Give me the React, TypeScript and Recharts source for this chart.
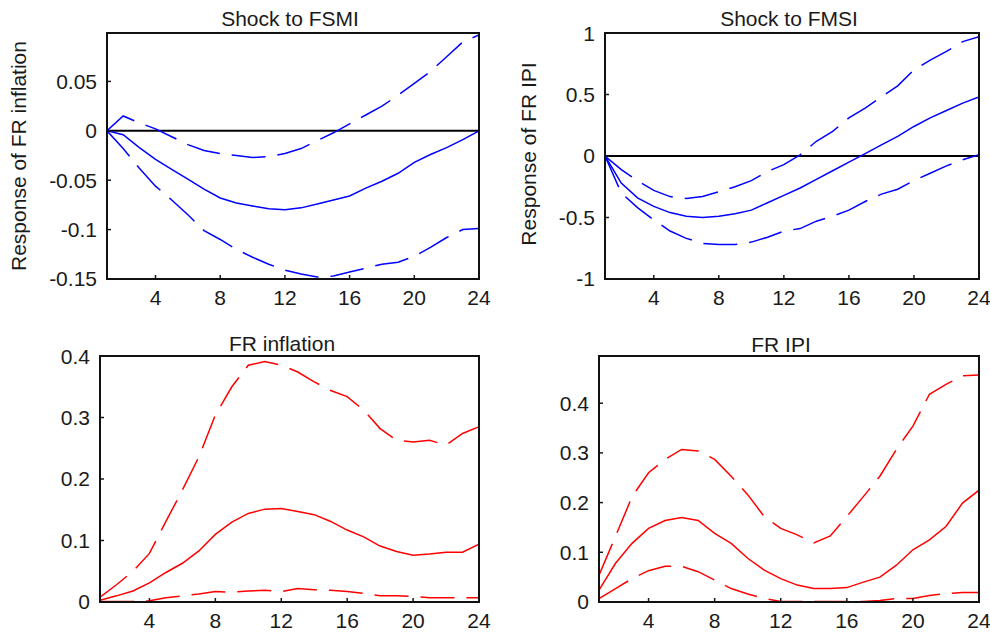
import { LineChart, Line, XAxis, YAxis, ReferenceLine } from "recharts";

const FONT = '"Liberation Sans", Arial, sans-serif';
const INK = "#1a1a1a";

const PERIODS = [1, 2, 3, 4, 5, 6, 7, 8, 9, 10, 11, 12, 13, 14, 15, 16, 17, 18, 19, 20, 21, 22, 23, 24];
const X_TICKS = [4, 8, 12, 16, 20, 24];

// Shock to FSMI -> FR inflation
const TL_MID = [0, -0.004, -0.017, -0.029, -0.039, -0.049, -0.059, -0.068, -0.073, -0.076, -0.079, -0.08, -0.078, -0.074, -0.07, -0.066, -0.058, -0.051, -0.043, -0.032, -0.024, -0.017, -0.009, 0];
const TL_UP = [0, 0.015, 0.008, 0.002, -0.006, -0.014, -0.02, -0.023, -0.025, -0.027, -0.026, -0.023, -0.018, -0.01, -0.002, 0.007, 0.016, 0.025, 0.036, 0.048, 0.06, 0.075, 0.09, 0.097];
const TL_LO = [0, -0.018, -0.038, -0.056, -0.07, -0.085, -0.101, -0.11, -0.12, -0.128, -0.135, -0.141, -0.145, -0.148, -0.147, -0.143, -0.139, -0.135, -0.133, -0.127, -0.118, -0.108, -0.1, -0.099];

// Shock to FMSI -> FR IPI
const TR_MID = [0, -0.22, -0.34, -0.41, -0.46, -0.49, -0.5, -0.49, -0.47, -0.44, -0.38, -0.32, -0.26, -0.19, -0.12, -0.05, 0.02, 0.09, 0.16, 0.24, 0.31, 0.37, 0.43, 0.48];
const TR_UP = [0, -0.11, -0.2, -0.28, -0.33, -0.345, -0.33, -0.29, -0.25, -0.2, -0.125, -0.07, 0.01, 0.12, 0.2, 0.31, 0.39, 0.48, 0.57, 0.7, 0.78, 0.85, 0.93, 0.97];
const TR_LO = [0, -0.3, -0.42, -0.52, -0.61, -0.67, -0.71, -0.72, -0.72, -0.7, -0.66, -0.61, -0.59, -0.53, -0.49, -0.44, -0.37, -0.31, -0.27, -0.2, -0.14, -0.08, -0.03, 0.01];

// FR inflation
const BL_MID = [0.003, 0.01, 0.018, 0.031, 0.048, 0.063, 0.083, 0.11, 0.13, 0.144, 0.151, 0.152, 0.147, 0.142, 0.131, 0.117, 0.106, 0.091, 0.082, 0.076, 0.078, 0.081, 0.081, 0.094];
const BL_UP = [0.008, 0.028, 0.05, 0.079, 0.131, 0.182, 0.236, 0.304, 0.35, 0.385, 0.391, 0.385, 0.374, 0.358, 0.344, 0.334, 0.312, 0.282, 0.263, 0.26, 0.263, 0.255, 0.274, 0.285];
const BL_LO = [0.001, 0.001, 0.001, 0.002, 0.007, 0.01, 0.013, 0.017, 0.016, 0.018, 0.019, 0.017, 0.022, 0.02, 0.019, 0.017, 0.014, 0.01, 0.01, 0.009, 0.007, 0.007, 0.007, 0.007];

// FR IPI
const BR_MID = [0.024, 0.078, 0.118, 0.148, 0.164, 0.17, 0.164, 0.138, 0.118, 0.088, 0.064, 0.047, 0.034, 0.027, 0.027, 0.029, 0.04, 0.05, 0.074, 0.105, 0.125, 0.152, 0.199, 0.225];
const BR_UP = [0.054, 0.132, 0.212, 0.26, 0.287, 0.307, 0.304, 0.287, 0.253, 0.216, 0.172, 0.148, 0.135, 0.119, 0.133, 0.172, 0.212, 0.253, 0.307, 0.354, 0.418, 0.438, 0.455, 0.457];
const BR_LO = [0.007, 0.027, 0.047, 0.063, 0.072, 0.072, 0.061, 0.044, 0.027, 0.016, 0.007, 0.001, 0.001, 0.001, 0.001, 0.001, 0.001, 0.003, 0.007, 0.007, 0.013, 0.017, 0.019, 0.019];

function rows(mid: number[], up: number[], lo: number[]) {
  return PERIODS.map((p, i) => ({ p, mid: mid[i], up: up[i], lo: lo[i] }));
}

type PanelProps = {
  left: number;
  top: number;
  w: number;
  h: number;
  yDomain: [number, number];
  yTicks: number[];
  color: string;
  data: { p: number; mid: number; up: number; lo: number }[];
  zero?: boolean;
};

function Panel({ left, top, w, h, yDomain, yTicks, color, data, zero }: PanelProps) {
  const ml = 100;
  const mt = 12;
  const mr = 24;
  const mb = 44;
  const axisLine = { stroke: INK, strokeWidth: 2 };
  const tickLine = { stroke: INK, strokeWidth: 1.5 };
  const tickFont = { fontSize: 21, fill: INK, fontFamily: FONT };
  const dash = "34 12";
  return (
    <>
      <div style={{ position: "absolute", left: left - ml, top: top - mt }}>
        <LineChart
          width={w + ml + mr}
          height={h + mt + mb}
          data={data}
          margin={{ top: mt, right: mr, bottom: mb - 30, left: ml - 60 }}
        >
          <XAxis
            dataKey="p"
            type="number"
            domain={[1, 24]}
            ticks={X_TICKS}
            allowDataOverflow
            height={30}
            tickSize={-4}
            tickMargin={15}
            axisLine={axisLine}
            tickLine={tickLine}
            tick={tickFont}
          />
          <YAxis
            type="number"
            domain={yDomain}
            ticks={yTicks}
            allowDataOverflow
            width={60}
            tickSize={-4}
            tickMargin={14}
            axisLine={axisLine}
            tickLine={tickLine}
            tick={tickFont}
          />
          {zero && <ReferenceLine y={0} stroke="#000" strokeWidth={2} />}
          <Line dataKey="up" stroke={color} strokeWidth={1.5} strokeDasharray={dash} dot={false} isAnimationActive={false} />
          <Line dataKey="mid" stroke={color} strokeWidth={1.5} dot={false} isAnimationActive={false} />
          <Line dataKey="lo" stroke={color} strokeWidth={1.5} strokeDasharray={dash} dot={false} isAnimationActive={false} />
        </LineChart>
      </div>
      {/* axes box frame */}
      <div
        style={{
          position: "absolute",
          left: left - 1,
          top: top - 1,
          width: w + 2,
          height: h + 2,
          boxSizing: "border-box",
          border: "2px solid #111",
          pointerEvents: "none",
          zIndex: 2,
        }}
      />
    </>
  );
}

export default function App() {
  const txt = { fontSize: 21, fill: INK, fontFamily: FONT } as const;
  return (
    <div style={{ position: "absolute", left: 0, top: 0, width: 990, height: 634, background: "#fff", overflow: "hidden" }}>
      <Panel left={107} top={33} w={372} h={246} yDomain={[-0.15, 0.099]} yTicks={[-0.15, -0.1, -0.05, 0, 0.05]} color="#0000ff" data={rows(TL_MID, TL_UP, TL_LO)} zero />
      <Panel left={605} top={33} w={374} h={246} yDomain={[-1, 1]} yTicks={[-1, -0.5, 0, 0.5, 1]} color="#0000ff" data={rows(TR_MID, TR_UP, TR_LO)} zero />
      <Panel left={100} top={356} w={379} h={246} yDomain={[0, 0.4]} yTicks={[0, 0.1, 0.2, 0.3, 0.4]} color="#ff0000" data={rows(BL_MID, BL_UP, BL_LO)} />
      <Panel left={599} top={356} w={380} h={246} yDomain={[0, 0.495]} yTicks={[0, 0.1, 0.2, 0.3, 0.4]} color="#ff0000" data={rows(BR_MID, BR_UP, BR_LO)} />
      <svg width={990} height={634} style={{ position: "absolute", left: 0, top: 0, pointerEvents: "none", zIndex: 3 }}>
        <text x={290} y={26} textAnchor="middle" {...txt}>Shock to FSMI</text>
        <text x={789} y={26} textAnchor="middle" {...txt}>Shock to FMSI</text>
        <text x={282} y={351} textAnchor="middle" {...txt}>FR inflation</text>
        <text x={781} y={352} textAnchor="middle" {...txt}>FR IPI</text>
        <text x={26} y={156} textAnchor="middle" transform="rotate(-90 26 156)" {...txt}>Response of FR inflation</text>
        <text x={536} y={154} textAnchor="middle" transform="rotate(-90 536 154)" {...txt}>Response of FR IPI</text>
      </svg>
    </div>
  );
}
